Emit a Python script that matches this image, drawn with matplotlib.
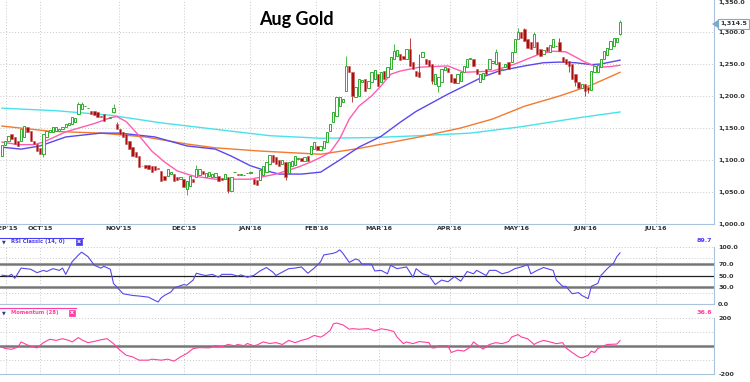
import matplotlib
matplotlib.use('Agg')
import matplotlib.pyplot as plt
import numpy as np
from matplotlib.patches import Rectangle, Polygon
from matplotlib.lines import Line2D

# daily candles, late Sep 2015 -> mid Jun 2016 (trading-day index)
OPEN = [1106, 1124, 1130, 1140, 1136, 1130, 1130, 1136, 1151, 1145,
        1130, 1125, 1118, 1109, 1136, 1143, 1144, 1146, 1146, 1148,
        1152, 1155, 1156, 1160, 1172, 1180, 1184, 1181, 1177, 1176,
        1175, 1168, 1172, 1166, 1166, 1175, 1156, 1148, 1143, 1140,
        1130, 1120, 1112, 1106, 1091, 1092, 1092, 1091, 1090, 1087,
        1083, 1075, 1075, 1078, 1078, 1074, 1070, 1070, 1055, 1060,
        1070, 1073, 1077, 1083, 1074, 1075, 1073, 1074, 1075, 1072,
        1070, 1073, 1052, 1081, 1078, 1077, 1076, 1079, 1080, 1070,
        1068, 1068, 1077, 1082, 1094, 1108, 1104, 1100, 1093, 1097,
        1080, 1091, 1092, 1102, 1103, 1098, 1106, 1110, 1117, 1122,
        1115, 1118, 1128, 1145, 1160, 1169, 1184, 1190, 1208, 1247,
        1237, 1198, 1200, 1222, 1227, 1212, 1222, 1226, 1234, 1222,
        1239, 1230, 1242, 1258, 1262, 1266, 1263, 1258, 1273, 1253,
        1239, 1237, 1261, 1258, 1256, 1250, 1219, 1215, 1222, 1240,
        1243, 1234, 1228, 1220, 1224, 1237, 1245, 1258, 1258, 1242,
        1222, 1226, 1242, 1242, 1252, 1250, 1253, 1240, 1245, 1253,
        1253, 1269, 1289, 1300, 1305, 1289, 1285, 1277, 1284, 1273,
        1265, 1276, 1268, 1277, 1278, 1284, 1261, 1258, 1255, 1250,
        1234, 1222, 1212, 1219, 1214, 1210, 1238, 1237, 1245, 1258,
        1264, 1273, 1278, 1285, 1297]
CLOSE = [1124, 1130, 1137, 1133, 1125, 1122, 1148, 1153, 1144, 1130,
         1125, 1114, 1110, 1140, 1145, 1147, 1151, 1152, 1149, 1151,
         1156, 1158, 1167, 1166, 1187, 1187, 1185, 1182, 1172, 1170,
         1167, 1167, 1161, 1165, 1166, 1181, 1148, 1140, 1136, 1125,
         1117, 1106, 1105, 1089, 1090, 1088, 1086, 1081, 1085, 1086,
         1067, 1068, 1086, 1081, 1067, 1069, 1074, 1058, 1067, 1075,
         1066, 1086, 1086, 1078, 1080, 1082, 1078, 1080, 1067, 1068,
         1078, 1052, 1073, 1081, 1077, 1077, 1077, 1080, 1080, 1062,
         1061, 1085, 1091, 1097, 1108, 1097, 1094, 1091, 1100, 1073,
         1097, 1098, 1106, 1103, 1098, 1104, 1099, 1122, 1128, 1115,
         1122, 1130, 1144, 1156, 1175, 1198, 1198, 1196, 1247, 1237,
         1200, 1214, 1227, 1225, 1208, 1224, 1237, 1240, 1216, 1238,
         1227, 1245, 1261, 1270, 1272, 1256, 1258, 1273, 1247, 1242,
         1231, 1230, 1269, 1250, 1247, 1223, 1234, 1230, 1242, 1245,
         1237, 1222, 1220, 1234, 1238, 1247, 1258, 1258, 1247, 1234,
         1235, 1236, 1234, 1258, 1254, 1269, 1234, 1242, 1250, 1242,
         1269, 1289, 1300, 1290, 1286, 1275, 1273, 1297, 1266, 1262,
         1272, 1271, 1280, 1289, 1278, 1270, 1253, 1250, 1247, 1227,
         1222, 1212, 1219, 1208, 1209, 1239, 1247, 1249, 1258, 1270,
         1275, 1286, 1290, 1290, 1316]
# the longer shadows that stand out
WICK_HIGH = {24: 1190, 25: 1190, 35: 1188, 36: 1160, 61: 1092, 108: 1262,
             123: 1282, 128: 1290, 131: 1266, 155: 1274, 162: 1306,
             164: 1307, 167: 1300, 175: 1290, 194: 1318}
WICK_LOW = {13: 1104, 35: 1174, 58: 1046, 71: 1049, 89: 1069, 110: 1190,
            135: 1218, 137: 1207, 178: 1238, 180: 1215, 183: 1200,
            184: 1204, 194: 1295}

# moving averages (day index, price)
MA_PINK_X = [0, 5, 10, 13, 20, 29, 34, 36, 39, 43, 47, 51, 55, 60, 67, 78, 86,
             93, 97, 100, 103, 106, 109, 112, 116, 119, 122, 125, 128, 131,
             140, 145, 154, 161, 164, 169, 173, 177, 180, 183, 187, 191, 194]
MA_PINK = [1128, 1124, 1124, 1128, 1144, 1157, 1166, 1168, 1160, 1138, 1114,
           1097, 1083, 1075, 1070, 1070, 1078, 1089, 1097, 1104, 1112, 1133,
           1164, 1184, 1200, 1216, 1234, 1239, 1242, 1245, 1247, 1237, 1239,
           1250, 1256, 1266, 1270, 1269, 1261, 1253, 1245, 1246, 1248]
MA_BLUE_X = [0, 6, 12, 20, 31, 37, 48, 58, 67, 72, 78, 83, 87, 94, 100, 106,
             112, 119, 125, 130, 140, 151, 156, 164, 170, 175, 180, 185, 188,
             191, 194]
MA_BLUE = [1120, 1117, 1122, 1136, 1142, 1142, 1136, 1122, 1117, 1106, 1091,
           1083, 1078, 1078, 1081, 1100, 1120, 1137, 1159, 1176, 1203, 1230,
           1239, 1247, 1252, 1253, 1252, 1249, 1250, 1253, 1256]
MA_ORANGE_X = [0, 15, 31, 45, 58, 67, 81, 100, 112, 131, 144, 154, 164, 175,
               185, 194]
MA_ORANGE = [1153, 1145, 1142, 1136, 1125, 1119, 1114, 1109, 1118, 1136, 1150,
             1164, 1184, 1200, 1217, 1237]
MA_CYAN_X = [0, 17, 34, 50, 67, 84, 100, 116, 131, 147, 163, 181, 194]
MA_CYAN = [1181, 1177, 1170, 1158, 1148, 1138, 1134, 1135, 1138, 1142, 1152,
           1166, 1175]

# RSI (14)
RSI_X = [0, 2, 3, 4, 6, 9, 11, 13, 14, 16, 18, 19, 20, 21, 22, 24, 25, 27, 29,
         31, 32, 34, 35, 38, 39, 41, 43, 46, 47, 49, 50, 51, 53, 54, 55, 57, 58,
         60, 61, 63, 64, 66, 68, 69, 72, 74, 75, 77, 79, 81, 83, 85, 86, 88, 90,
         92, 94, 96, 98, 100, 101, 104, 105, 106, 107, 109, 111, 112, 113, 116,
         117, 119, 121, 122, 124, 127, 129, 130, 132, 134, 136, 138, 140, 142,
         144, 146, 148, 149, 152, 153, 155, 157, 159, 161, 163, 165, 166, 168,
         170, 173, 174, 176, 177, 179, 181, 182, 184, 185, 187, 188, 190, 192,
         193, 194]
RSI = [50.6, 49, 52, 45, 63, 61, 55, 59, 57, 62, 59, 63, 52, 63, 74, 86, 91,
       83, 68, 63, 66, 61, 36, 18, 17, 15, 14, 12, 9, 3.5, 11, 15, 21, 28, 30,
       34, 33, 42, 54, 51, 50, 52, 47, 52, 52, 49, 51, 47, 50, 58, 64, 56, 50,
       56, 62, 63, 65, 54, 63, 74, 86, 89, 91, 95, 89, 73, 79, 77, 70, 70, 58,
       59, 53, 68, 62, 65, 47, 62, 53, 50, 34, 42, 39, 48, 40, 57, 53, 59, 50,
       59, 59, 53, 56, 62, 65, 69, 53, 59, 64, 59, 42, 31, 31, 18, 20, 15, 9.5,
       31, 36, 50, 62, 72, 83, 89.7]

# Momentum (28)
MOM_X = [0, 1, 3, 5, 6, 8, 10, 11, 13, 15, 17, 19, 21, 22, 24, 25, 27, 29, 31,
         33, 35, 36, 37, 39, 41, 43, 46, 47, 50, 52, 54, 56, 58, 60, 62, 65, 67,
         69, 71, 73, 74, 76, 77, 79, 80, 82, 84, 86, 88, 90, 92, 94, 96, 98,
         100, 101, 103, 104, 105, 107, 109, 110, 112, 115, 117, 119, 121, 123,
         124, 126, 127, 129, 131, 132, 134, 135, 136, 137, 140, 141, 143, 145,
         147, 148, 151, 153, 155, 157, 159, 160, 162, 163, 165, 167, 168, 170,
         172, 174, 176, 177, 179, 181, 182, 184, 185, 186, 187, 189, 190, 193,
         194]
MOM = [-9, -20, -25, -9, 27, 5, -9, -15, 22, 46, 38, 50, 38, 27, 58, 42, 22,
       31, 42, 50, 15, -9, -31, -67, -79, -102, -102, -95, -102, -95, -109, -79,
       -55, -20, -13, -15, 0, -7, 9, 0, 9, 0, 16, 0, 5, 27, 16, 22, 9, 38, 22,
       38, 50, 73, 61, 73, 108, 155, 161, 148, 117, 121, 117, 121, 105, 120,
       113, 101, 62, 15, 27, 15, 30, 27, 22, -15, -15, 0, 0, -48, -31, -38, -9,
       27, -24, 9, 22, 15, 30, 62, 79, 62, 50, 9, 22, 38, 27, 15, 22, -15, -48,
       -79, -86, -67, -38, -48, -20, 0, 9, 12, 36.6]

MONTH_POS = [1.3, 11.9, 36.7, 57.1, 77.8, 98.6, 118.3, 140.6, 161.6, 183.0, 205.3]
MONTH_LBL = ["SEP'15", "OCT'15", "NOV'15", "DEC'15", "JAN'16", "FEB'16",
             "MAR'16", "APR'16", "MAY'16", "JUN'16", "JUL'16"]
PRICE_TICKS = [1000, 1050, 1100, 1150, 1200, 1250, 1300, 1350]
LAST_PRICE = 1314.5

W, H = 750, 382
fig = plt.figure(figsize=(W / 100, H / 100), dpi=100)
fig.patch.set_facecolor('white')


def box(x0, y0, x1, y1):
    return [x0 / W, 1 - y1 / H, (x1 - x0) / W, (y1 - y0) / H]


ax = fig.add_axes(box(0, 0, 714, 224))
ax_rsi = fig.add_axes(box(0, 247, 714, 304))
ax_mom = fig.add_axes(box(0, 317.5, 714, 374))

XL = (-0.63, 223.5)
spine_c = '#a9c3dc'
small = dict(fontsize=4.6, fontweight='bold', color='#333333')

for a in (ax, ax_rsi, ax_mom):
    a.set_xlim(*XL)
    a.spines['left'].set_visible(False)
    a.spines['top'].set_visible(False)
    a.spines['right'].set_color(spine_c)
    a.spines['bottom'].set_color(spine_c)
    a.yaxis.tick_right()
    a.tick_params(axis='both', length=0, pad=3, labelsize=4.6, labelcolor='#333333')
    for p in MONTH_POS:
        a.axvline(p, color='#c8c8c8', lw=0.7, ls=(0, (1, 2)), zorder=0)

# ---- price panel
ax.set_ylim(1000, 1350)
for v in PRICE_TICKS[1:-1]:
    ax.axhline(v, color='#c8c8c8', lw=0.7, ls=(0, (1, 2)), zorder=0)
ax.set_yticks(PRICE_TICKS)
ax.set_yticklabels([f'{v:,.1f}' for v in PRICE_TICKS], fontweight='bold')
ax.get_yticklabels()[-1].set_va('top')
ax.set_xticks(MONTH_POS)
ax.set_xticklabels(MONTH_LBL, fontweight='bold')
ax.tick_params(axis='x', pad=1.5)

ax.plot(MA_CYAN_X, MA_CYAN, color='#47e3ea', lw=1.0, zorder=2)
ax.plot(MA_ORANGE_X, MA_ORANGE, color='#f27a2e', lw=1.0, zorder=2)
ax.plot(MA_BLUE_X, MA_BLUE, color='#5a48ee', lw=1.0, zorder=2)
ax.plot(MA_PINK_X, MA_PINK, color='#ff5cb0', lw=1.0, zorder=2)

o = np.array(OPEN, float)
c = np.array(CLOSE, float)
idx = np.arange(len(c))
up = c >= o
hi = np.maximum(o, c)
lo = np.minimum(o, c)
for k, v in WICK_HIGH.items():
    hi[k] = v
for k, v in WICK_LOW.items():
    lo[k] = v
ax.vlines(idx[up], lo[up], hi[up], color='#2fae2f', lw=0.6, zorder=3)
ax.vlines(idx[~up], lo[~up], hi[~up], color='#b02020', lw=0.6, zorder=3)
ax.bar(idx[up], np.maximum(c - o, 0.8)[up], bottom=o[up], width=0.72,
       color='white', edgecolor='#2fae2f', lw=0.7, zorder=4)
ax.bar(idx[~up], (o - c)[~up], bottom=c[~up], width=0.72,
       color='#a80f0f', edgecolor='#d06060', lw=0.4, zorder=4)

fig.text(296 / W, 1 - 19 / H, 'Aug Gold', ha='center', va='center',
         fontsize=13, fontweight='bold', family='Lato', color='black')

# last price tag
ty = 1 - 24 / H
fig.patches.append(Rectangle((718 / W, 1 - 29 / H), 31 / W, 10 / H,
                             transform=fig.transFigure, facecolor='white',
                             edgecolor='#7fa9c9', lw=0.8))
fig.patches.append(Polygon([(712 / W, ty), (718 / W, ty + 4 / H), (718 / W, ty - 4 / H)],
                           closed=True, transform=fig.transFigure,
                           facecolor='#7fa9c9', edgecolor='none'))
fig.text(733.5 / W, ty, f'{LAST_PRICE:,.1f}', ha='center', va='center', **small)

# ---- RSI panel
ax_rsi.set_ylim(0, 100)
ax_rsi.set_yticks([0, 30, 50, 70, 100])
ax_rsi.set_yticklabels(['0.0', '30.0', '50.0', '70.0', '100.0'], fontweight='bold')
ax_rsi.set_xticks([])
for v in (20, 80, 100):
    ax_rsi.axhline(v, color='#c8c8c8', lw=0.7, ls=(0, (1, 2)), zorder=0)
for v in (30, 70):
    ax_rsi.axhline(v, color='#9a9a9a', lw=2.2, zorder=1)
    ax_rsi.axhline(v, color='#6e6e6e', lw=0.6, zorder=1)
ax_rsi.axhline(50, color='#202020', lw=0.9, zorder=1)
ax_rsi.plot(RSI_X, RSI, color='#5548ee', lw=0.8, zorder=3)
fig.text(712 / W, 1 - 241 / H, f'{RSI[-1]:.1f}', ha='right', va='center',
         fontsize=4.6, fontweight='bold', color='#4a3cf0')

# ---- Momentum panel
ax_mom.set_ylim(-200, 200)
ax_mom.set_yticks([200, -200])
ax_mom.set_yticklabels(['200', '-200'], fontweight='bold')
ax_mom.set_xticks([])
for v in (100, -100, 200):
    ax_mom.axhline(v, color='#c8c8c8', lw=0.7, ls=(0, (1, 2)), zorder=0)
ax_mom.axhline(0, color='#9a9a9a', lw=2.2, zorder=1)
ax_mom.axhline(0, color='#6e6e6e', lw=0.6, zorder=1)
ax_mom.plot(MOM_X, MOM, color='#ff3fa0', lw=0.8, zorder=3)
fig.text(712 / W, 1 - 313 / H, f'{MOM[-1]:.1f}', ha='right', va='center',
         fontsize=4.6, fontweight='bold', color='#ff3fa0')


# panel headers
def header(y, label, color, xend):
    fig.lines.append(Line2D([0, xend / W], [1 - (y - 4.5) / H] * 2,
                            transform=fig.transFigure, color=color, lw=0.8))
    fig.text(4 / W, 1 - y / H, '\u25bc', ha='center', va='center',
             fontsize=3.5, color='#333399')
    fig.text(11 / W, 1 - y / H, label, ha='left', va='center',
             fontsize=3.8, fontweight='bold', color=color)
    fig.patches.append(Rectangle(((xend - 7) / W, 1 - (y + 3) / H), 6 / W, 6 / H,
                                 transform=fig.transFigure, facecolor=color,
                                 edgecolor=color, lw=0.5))
    fig.text((xend - 4) / W, 1 - y / H, 'x', ha='center', va='center',
             fontsize=4.5, fontweight='bold', color='white')


header(242, 'RSI Classic (14, 0)', '#4a3cf0', 83)
header(312.5, 'Momentum (28)', '#ff3fa0', 76)

fig.savefig('out.png', dpi=100)
